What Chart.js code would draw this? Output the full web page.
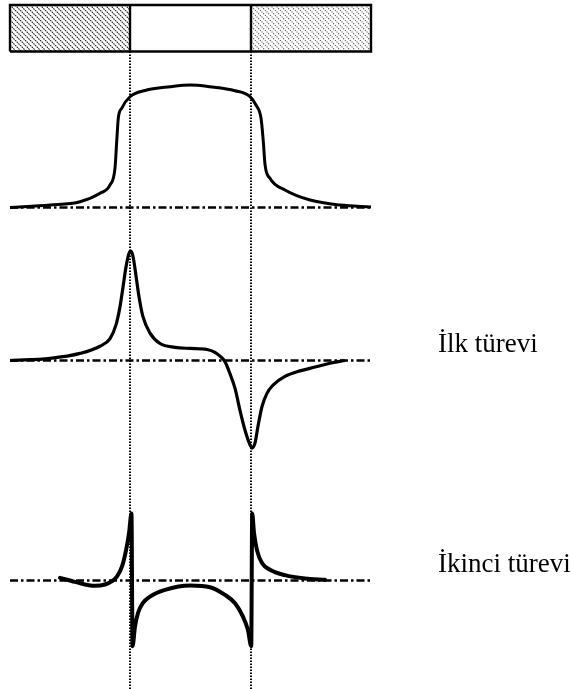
<!DOCTYPE html>
<html>
<head>
<meta charset="utf-8">
<script src="https://cdn.jsdelivr.net/npm/chart.js@4.4.1/dist/chart.umd.min.js"></script>
<style>
html,body{margin:0;padding:0;background:#fff;}
#wrap{position:relative;width:572px;height:689px;}
</style>
</head>
<body>
<div id="wrap"><canvas id="c" width="572" height="689"></canvas></div>
<script>
// ---- data ----
const barEdges = [-1.492, -0.5, 0.5, 1.492];
const barFill = ['hatchDark', 'open', 'hatchLight'];
const wallPositions = [-0.5, 0.5];

const profileX = [-1.492,-1.161,-0.913,-0.748,-0.665,-0.624,-0.610,-0.597,-0.569,-0.500,-0.376,-0.169,0,0.161,0.368,0.492,0.541,0.583,0.602,0.616,0.657,0.781,0.988,1.236,1.492];
const profileY = [0,0.02,0.047,0.116,0.184,0.322,0.537,0.728,0.81,0.904,0.955,0.986,1.0,0.986,0.953,0.905,0.837,0.728,0.537,0.351,0.238,0.143,0.061,0.020,0.005];

const firstX = [-1.492,-1.161,-0.913,-0.748,-0.665,-0.616,-0.583,-0.558,-0.533,-0.508,-0.492,-0.475,-0.450,-0.426,-0.393,-0.335,-0.252,-0.128,-0.004,0.136,0.202,0.244,0.285,0.326,0.368,0.409,0.450,0.492,0.508,0.533,0.558,0.591,0.632,0.682,0.781,0.905,1.030,1.153,1.277];
const firstY = [0,0.02,0.065,0.13,0.20,0.325,0.49,0.67,0.855,0.98,1.0,0.95,0.77,0.585,0.40,0.25,0.155,0.12,0.11,0.10,0.075,0.04,-0.01,-0.12,-0.255,-0.455,-0.635,-0.77,-0.80,-0.755,-0.60,-0.42,-0.30,-0.225,-0.145,-0.095,-0.06,-0.025,0];

const secondX = [-1.079,-0.955,-0.789,-0.707,-0.649,-0.607,-0.566,-0.533,-0.508,-0.488,-0.479,-0.459,-0.434,-0.393,-0.335,-0.211,0,0.161,0.285,0.368,0.434,0.475,0.502,0.510,0.525,0.550,0.591,0.657,0.781,0.946,1.112];
const secondY = [0.04,-0.02,-0.08,-0.06,-0.01,0.06,0.21,0.45,0.71,1.0,-0.98,-0.69,-0.485,-0.335,-0.24,-0.14,-0.075,-0.10,-0.215,-0.34,-0.54,-0.74,-0.98,1.0,0.71,0.45,0.26,0.16,0.08,0.03,0.01];

const derivLabels = ['İlk türevi', 'İkinci türevi'];
const derivAxes = ['yFirst', 'ySecond'];

// ---- helpers ----
function toPts(xs, ys){ return xs.map((x,i)=>({x:x, y:ys[i]})); }
function makeHatch(color, dash){
  const s = 5;
  const c = document.createElement('canvas'); c.width = s; c.height = s;
  const g = c.getContext('2d');
  g.strokeStyle = color; g.lineWidth = 1.1; g.setLineDash(dash);
  for (const k of [-s, 0, s]) { g.beginPath(); g.moveTo(k, 0); g.lineTo(k + s, s); g.stroke(); }
  return g.createPattern(c, 'repeat');
}
const patterns = { hatchDark: makeHatch('#222', [1.6, 0.8]), hatchLight: makeHatch('#555', [1.1, 1.2]) };

const datasets = [];
// bar fills
barFill.forEach((f, i) => {
  if (f === 'open') return;
  datasets.push({ yAxisID:'yBar', data:[{x:barEdges[i],y:1},{x:barEdges[i+1],y:1}], fill:'origin',
    backgroundColor: patterns[f], borderWidth:0, pointRadius:0, order:10, clip:6 });
});
// bar outline
const L = barEdges[0], R = barEdges[barEdges.length-1];
datasets.push({ yAxisID:'yBar', data:[{x:L,y:0},{x:L,y:1},{x:R,y:1},{x:R,y:0},{x:L,y:0}], borderColor:'#000', borderWidth:2.4, pointRadius:0, tension:0, order:5, clip:6, fill:false });
barEdges.slice(1, -1).forEach(e => {
  datasets.push({ yAxisID:'yBar', data:[{x:e,y:0},{x:e,y:1}], borderColor:'#000', borderWidth:2.4, pointRadius:0, order:5, clip:6, fill:false });
});
// baselines
['yProfile','yFirst','ySecond'].forEach(ax => {
  datasets.push({ yAxisID:ax, data:[{x:L,y:0},{x:R,y:0}], borderColor:'#000', borderWidth:2.4, borderDash:[8,3,2.5,3], pointRadius:0, order:3, fill:false, clip:4 });
});
// curves
datasets.push({ yAxisID:'yProfile', data:toPts(profileX, profileY), borderColor:'#000', borderWidth:3, pointRadius:0, cubicInterpolationMode:'monotone', order:1, fill:false, clip:4 });
datasets.push({ yAxisID:'yFirst', data:toPts(firstX, firstY), borderColor:'#000', borderWidth:3.2, pointRadius:0, cubicInterpolationMode:'monotone', order:1, fill:false, clip:4 });
datasets.push({ yAxisID:'ySecond', data:toPts(secondX, secondY), borderColor:'#000', borderWidth:4, pointRadius:0, cubicInterpolationMode:'monotone', order:1, fill:false, clip:4, borderJoinStyle:'round', borderCapStyle:'round' });

const wallPlugin = {
  id: 'walls',
  beforeDatasetsDraw(chart) {
    const ctx = chart.ctx, xs = chart.scales.x, yb = chart.scales.yBar;
    ctx.save();
    ctx.strokeStyle = '#000'; ctx.lineWidth = 2; ctx.setLineDash([1.5, 1.5]);
    for (const w of wallPositions) {
      const px = xs.getPixelForValue(w);
      ctx.beginPath(); ctx.moveTo(px, yb.getPixelForValue(0)); ctx.lineTo(px, chart.height); ctx.stroke();
    }
    ctx.restore();
  }
};
const labelPlugin = {
  id: 'derivLabels',
  afterDraw(chart) {
    const ctx = chart.ctx;
    ctx.save();
    ctx.fillStyle = '#000';
    ctx.font = '27px "Liberation Serif", "Times New Roman", serif';
    ctx.textBaseline = 'alphabetic'; ctx.textAlign = 'left';
    derivLabels.forEach((t, i) => {
      const y = chart.scales[derivAxes[i]].getPixelForValue(0) - 8.5;
      ctx.fillText(t, 438, y);
    });
    ctx.restore();
  }
};

new Chart(document.getElementById('c'), {
  type: 'line',
  data: { datasets },
  options: {
    responsive:false, animation:false, events:[],
    layout:{ padding:{ left:10, right:201, top:0, bottom:0 } },
    plugins:{ legend:{display:false}, tooltip:{enabled:false} },
    scales:{
      x:{ type:'linear', min:-1.492, max:1.492, display:false },
      yBar:{ type:'linear', position:'left', stack:'s', stackWeight:56, weight:4, min:-0.0968, max:1.1075, display:false },
      yProfile:{ type:'linear', position:'left', stack:'s', stackWeight:174, weight:3, min:-0.1837, max:1.2367, display:false },
      yFirst:{ type:'linear', position:'left', stack:'s', stackWeight:240, weight:2, min:-1.0, max:1.1918, display:false },
      ySecond:{ type:'linear', position:'left', stack:'s', stackWeight:219, weight:1, min:-1.619, max:1.649, display:false }
    }
  },
  plugins:[wallPlugin, labelPlugin]
});
</script>
</body>
</html>
